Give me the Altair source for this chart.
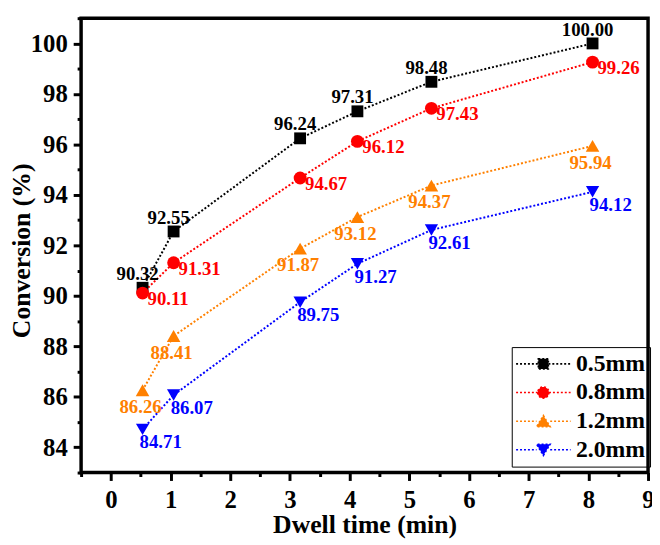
import altair as alt
import pandas as pd

# ---- data ----
dwell = [0.53, 1.05, 3.17, 4.13, 5.37, 8.07]
series = ["0.5mm", "0.8mm", "1.2mm", "2.0mm"]
conv_05 = [90.32, 92.55, 96.24, 97.31, 98.48, 100.00]
conv_08 = [90.11, 91.31, 94.67, 96.12, 97.43, 99.26]
conv_12 = [86.26, 88.41, 91.87, 93.12, 94.37, 95.94]
conv_20 = [84.71, 86.07, 89.75, 91.27, 92.61, 94.12]
values = [conv_05, conv_08, conv_12, conv_20]

x_major = [0, 1, 2, 3, 4, 5, 6, 7, 8, 9]
x_minor = [-0.5, 0.5, 1.5, 2.5, 3.5, 4.5, 5.5, 6.5, 7.5, 8.5]
y_major = [84, 86, 88, 90, 92, 94, 96, 98, 100]
y_minor = [83, 85, 87, 89, 91, 93, 95, 97, 99, 101]

# ---- styling ----
colors = ["#000000", "#FF0000", "#FF8000", "#0000FF"]
shapes = ["square", "circle", "triangle-up", "triangle-down"]
sizes = [144, 169, 190, 180]
label_style = [  # align, dx, dy
    ("center", -5, -14),
    ("left", 5, 6),
    ("center", -2, 17),
    ("left", -3, 13),
]
legend_paths = [
    "M-4.6,0H-0.85M0.85,0H4.6M-0.85,-0.85H0.85V0.85H-0.85Z",
    "M-4.6,0H-0.95M0.95,0H4.6M-0.95,0A0.95,0.95,0,1,0,0.95,0A0.95,0.95,0,1,0,-0.95,0Z",
    "M-4.6,0H-1.15M1.15,0H4.6M0,-0.95L1.15,0.95L-1.15,0.95Z",
    "M-4.6,0H-1.15M1.15,0H4.6M0,0.95L1.15,-0.95L-1.15,-0.95Z",
]

FONT = "Liberation Serif"

rows = []
for s, vals in zip(series, values):
    for xv, yv in zip(dwell, vals):
        rows.append({"x": xv, "y": yv, "series": s})
df = pd.DataFrame(rows)

xscale = alt.Scale(domain=[-0.5, 9], nice=False, zero=False)
yscale = alt.Scale(domain=[83, 101], nice=False, zero=False)

axis_x_major = alt.Axis(
    values=x_major, orient="bottom", domain=False, grid=False,
    tickSize=8, tickWidth=3, tickColor="black",
    labelFont=FONT, labelFontSize=25, labelFontWeight="bold", labelColor="black",
    labelPadding=7, labelFlush=False, labelOverlap=False,
    title="Dwell time (min)", titleFont=FONT, titleFontSize=26,
    titleFontWeight="bold", titleColor="black",
    titleBaseline="alphabetic", titleX=287, titleY=61,
)
axis_y_major = alt.Axis(
    values=y_major, orient="left", domain=False, grid=False,
    tickSize=8, tickWidth=3, tickColor="black",
    labelFont=FONT, labelFontSize=25, labelFontWeight="bold", labelColor="black",
    labelPadding=6, labelFlush=False, labelOverlap=False,
    title="Conversion (%)", titleFont=FONT, titleFontSize=26,
    titleFontWeight="bold", titleColor="black", titleAngle=270,
    titleBaseline="alphabetic", titleX=-52, titleY=235,
)
axis_x_minor = alt.Axis(
    values=x_minor, orient="bottom", domain=False, grid=False, labels=False,
    tickSize=4, tickWidth=3, tickColor="black", title=None,
)
axis_y_minor = alt.Axis(
    values=y_minor, orient="left", domain=False, grid=False, labels=False,
    tickSize=4, tickWidth=3, tickColor="black", title=None,
)

line_layers, point_layers, text_layers = [], [], []
for i, s in enumerate(series):
    base = alt.Chart(df).transform_filter(alt.datum.series == s)
    xa = axis_x_major if i == 0 else None
    ya = axis_y_major if i == 0 else None
    line_layers.append(
        base.mark_line(color=colors[i], strokeWidth=2, strokeDash=[2, 2]).encode(
            x=alt.X("x:Q", scale=xscale, axis=xa),
            y=alt.Y("y:Q", scale=yscale, axis=ya),
        )
    )
    point_layers.append(
        base.mark_point(filled=True, opacity=1, shape=shapes[i], size=sizes[i],
                        color=colors[i]).encode(
            x=alt.X("x:Q", scale=xscale, axis=None),
            y=alt.Y("y:Q", scale=yscale, axis=None),
        )
    )
    al, dx, dy = label_style[i]
    text_layers.append(
        base.mark_text(font=FONT, fontSize=19, fontWeight="bold", color=colors[i],
                       align=al, baseline="middle", dx=dx, dy=dy).encode(
            x=alt.X("x:Q", scale=xscale, axis=None),
            y=alt.Y("y:Q", scale=yscale, axis=None),
            text=alt.Text("y:Q", format=".2f"),
        )
    )

leg = alt.Legend(
    title=None, orient="none", legendX=436, legendY=333,
    labelFont=FONT, labelFontSize=24, labelFontWeight="bold", labelColor="black",
    symbolSize=144, symbolStrokeWidth=1.6, symbolDash=[2, 2],
    symbolOffset=15, labelOffset=21, rowPadding=5, padding=5,
    strokeColor="black",
)

legend_layer = alt.Chart(df).transform_filter("datum.x < -100").mark_point(
    filled=True, opacity=1
).encode(
    x=alt.X("x:Q", scale=xscale, axis=axis_x_minor),
    y=alt.Y("y:Q", scale=yscale, axis=axis_y_minor),
    fill=alt.Fill("series:N", scale=alt.Scale(domain=series, range=colors), legend=leg),
    stroke=alt.Stroke("series:N", scale=alt.Scale(domain=series, range=colors), legend=leg),
    shape=alt.Shape("series:N", scale=alt.Scale(domain=series, range=legend_paths), legend=leg),
)

chart = alt.layer(
    *line_layers, *point_layers, *text_layers, legend_layer
).resolve_axis(
    x="independent", y="independent"
).properties(
    width=574, height=460,
    autosize=alt.AutoSizeParams(type="none"),
    padding={"left": 74, "top": 7, "right": 4, "bottom": 66},
).configure_view(
    stroke="black", strokeWidth=3.5
)

chart.save("out.html", embed_options={"renderer": "svg", "actions": False})
